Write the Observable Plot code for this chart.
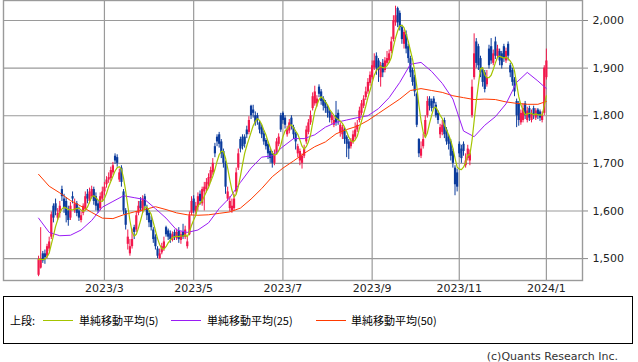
<!DOCTYPE html>
<html><head><meta charset="utf-8">
<script src="https://cdn.jsdelivr.net/npm/d3@7"></script>
<script src="https://cdn.jsdelivr.net/npm/@observablehq/plot@0.6"></script>
<style>
html,body{margin:0;padding:0;background:#fff;}
#wrap{position:relative;width:638px;height:362px;overflow:hidden;font-family:"DejaVu Sans","Noto Sans CJK JP",sans-serif;}
#chart{position:absolute;left:0;top:0;}
#legend{position:absolute;left:3px;top:296px;width:630px;height:48px;border:1px solid #000;box-sizing:border-box;font-family:"Noto Sans CJK JP","DejaVu Sans",sans-serif;font-size:11px;color:#000;}
.lg{position:absolute;top:16px;line-height:14px;white-space:nowrap;}
.sw{position:absolute;top:23px;height:0;width:30px;border-top:1px solid;}
#cap{position:absolute;right:20px;top:350px;font-size:11px;color:#333;font-family:"DejaVu Sans",sans-serif;}
</style></head>
<body>
<div id="wrap">
<div id="chart"></div>
<div id="legend"></div>
<div id="cap">(c)Quants Research Inc.</div>
</div>
<script>
const open = [
1465,1480,1510,1510,1505,1520,1545,1610,1615,1585,
1595,1645,1625,1620,1600,1585,1630,1600,1615,1600,
1580,1595,1605,1635,1620,1630,1645,1630,1615,1605,
1625,1640,1655,1665,1668,1680,1715,1712,1665,1690,
1640,1600,1530,1510,1525,1565,1560,1595,1620,1600,
1630,1605,1595,1580,1560,1545,1520,1500,1512,1520,
1565,1558,1552,1538,1555,1542,1558,1538,1555,1545,
1525,1550,1595,1625,1598,1608,1635,1615,1640,1645,
1655,1668,1680,1735,1755,1760,1745,1725,1700,1625,
1605,1600,1605,1640,1690,1750,1755,1755,1770,1765,
1820,1812,1800,1800,1785,1775,1762,1748,1740,1725,
1720,1700,1722,1740,1800,1805,1795,1760,1768,1795,
1775,1762,1720,1705,1700,1715,1745,1765,1785,1815,
1825,1825,1860,1850,1835,1828,1818,1808,1790,1780,
1800,1805,1765,1760,1770,1755,1745,1735,1745,1755,
1770,1790,1805,1820,1838,1850,1868,1880,1900,1925,
1915,1880,1910,1895,1910,1915,1935,1960,1995,2025,
2015,1985,1950,1970,1945,1920,1895,1880,1845,1750,
1715,1735,1760,1800,1835,1830,1835,1822,1805,1760,
1765,1790,1770,1755,1745,1725,1690,1680,1740,1730,
1740,1695,1710,1705,1800,1880,1955,1945,1920,1895,
1890,1865,1940,1945,1910,1955,1925,1935,1930,1945,
1915,1950,1905,1895,1875,1830,1825,1785,1790,1825,
1790,1815,1790,1815,1795,1812,1808,1790,1805,1880];
const high = [
1505,1565,1515,1518,1530,1545,1598,1615,1625,1605,
1620,1652,1635,1628,1610,1618,1640,1625,1620,1608,
1598,1615,1640,1645,1648,1652,1650,1638,1622,1638,
1650,1660,1672,1680,1692,1702,1720,1718,1688,1695,
1645,1605,1560,1540,1562,1570,1598,1620,1628,1632,
1635,1612,1600,1588,1565,1550,1525,1520,1532,1545,
1568,1562,1558,1556,1560,1562,1565,1556,1572,1568,
1545,1598,1630,1632,1618,1638,1642,1650,1660,1668,
1678,1692,1710,1742,1760,1765,1750,1730,1705,1650,
1630,1625,1635,1690,1730,1755,1760,1760,1778,1798,
1822,1822,1808,1805,1790,1780,1768,1752,1745,1730,
1725,1728,1752,1762,1805,1808,1800,1778,1792,1800,
1780,1765,1740,1730,1720,1738,1778,1792,1810,1848,
1862,1842,1865,1855,1840,1832,1822,1812,1805,1798,
1830,1812,1785,1780,1775,1758,1750,1752,1768,1785,
1790,1818,1832,1842,1860,1878,1892,1915,1930,1932,
1920,1912,1918,1922,1935,1938,1965,2010,2030,2028,
2020,1990,1980,1978,1950,1925,1900,1885,1848,1752,
1745,1762,1800,1840,1840,1835,1840,1828,1810,1782,
1790,1795,1775,1760,1750,1730,1695,1688,1745,1738,
1745,1720,1738,1728,1875,1972,1962,1950,1925,1900,
1895,1895,1948,1962,1938,1965,1948,1940,1935,1950,
1942,1955,1910,1900,1880,1835,1830,1812,1825,1830,
1818,1820,1812,1820,1815,1815,1812,1808,1905,1940];
const low = [
1462,1478,1490,1488,1500,1515,1540,1575,1590,1580,
1585,1620,1595,1575,1568,1580,1615,1595,1588,1578,
1575,1590,1600,1615,1615,1625,1612,1600,1595,1600,
1620,1632,1648,1658,1662,1675,1698,1692,1660,1650,
1592,1560,1518,1505,1520,1540,1555,1590,1598,1595,
1600,1580,1565,1558,1532,1518,1500,1498,1508,1515,
1545,1538,1532,1535,1538,1538,1532,1530,1540,1540,
1520,1548,1590,1595,1592,1600,1612,1610,1600,1638,
1650,1660,1675,1712,1735,1732,1710,1690,1635,1620,
1598,1595,1600,1635,1685,1722,1728,1732,1752,1760,
1792,1795,1778,1780,1762,1752,1738,1728,1708,1700,
1690,1695,1718,1735,1765,1782,1772,1755,1762,1770,
1750,1728,1712,1695,1688,1710,1740,1760,1780,1810,
1820,1818,1838,1822,1810,1805,1795,1785,1782,1775,
1778,1780,1755,1750,1740,1712,1708,1730,1740,1750,
1765,1785,1800,1815,1832,1845,1862,1875,1895,1885,
1870,1860,1880,1890,1905,1910,1930,1955,1988,1985,
1978,1950,1940,1930,1910,1880,1862,1840,1775,1712,
1710,1730,1755,1795,1810,1808,1815,1795,1782,1752,
1758,1752,1738,1728,1705,1690,1632,1640,1712,1700,
1715,1690,1705,1695,1795,1875,1900,1895,1880,1860,
1848,1860,1898,1908,1905,1918,1920,1905,1898,1912,
1910,1915,1880,1862,1840,1775,1778,1780,1785,1792,
1785,1788,1785,1792,1790,1792,1788,1785,1800,1875];
const close = [
1498,1500,1495,1502,1525,1535,1592,1585,1600,1595,
1610,1630,1605,1590,1580,1610,1625,1615,1595,1585,
1590,1610,1630,1625,1640,1645,1620,1610,1600,1630,
1640,1650,1665,1670,1685,1695,1705,1700,1680,1660,
1600,1570,1545,1525,1540,1555,1590,1610,1605,1625,
1610,1590,1575,1565,1540,1525,1505,1510,1525,1535,
1550,1545,1540,1550,1545,1555,1540,1550,1545,1560,
1535,1590,1620,1600,1610,1630,1620,1645,1650,1660,
1670,1685,1700,1720,1745,1740,1720,1700,1650,1640,
1620,1610,1625,1680,1720,1730,1735,1740,1760,1790,
1800,1805,1785,1790,1770,1760,1745,1735,1720,1710,
1700,1720,1745,1755,1770,1790,1780,1770,1785,1780,
1760,1745,1735,1725,1715,1730,1770,1785,1800,1840,
1850,1835,1845,1830,1820,1815,1805,1795,1800,1790,
1785,1790,1780,1775,1750,1740,1730,1745,1760,1770,
1780,1810,1825,1835,1850,1870,1885,1905,1915,1900,
1895,1905,1890,1915,1920,1930,1955,2000,2010,1995,
1985,1960,1975,1940,1920,1890,1870,1850,1780,1720,
1730,1750,1790,1830,1820,1815,1825,1800,1790,1775,
1780,1760,1745,1740,1715,1700,1655,1650,1720,1710,
1725,1705,1730,1720,1860,1930,1910,1905,1890,1870,
1855,1880,1905,1915,1930,1925,1940,1915,1905,1920,
1935,1925,1890,1870,1850,1800,1790,1805,1815,1800,
1810,1795,1805,1800,1810,1800,1795,1800,1900,1915];
// 25-day and 50-day simple moving averages, read every 5 trading days (last point = final day)
const maIndex = [0,5,10,15,20,25,30,35,40,45,50,55,60,65,70,75,80,85,90,95,100,105,110,115,120,125,130,135,140,145,150,155,160,165,170,175,180,185,190,195,200,205,210,215,220,225,230,235,239];
const ma25 = [1585,1555,1548,1549,1560,1580,1608,1620,1632,1628,1624,1605,1585,1560,1555,1560,1575,1605,1628,1660,1690,1713,1716,1735,1752,1752,1760,1776,1786,1791,1796,1800,1815,1838,1870,1908,1912,1893,1868,1835,1768,1756,1780,1798,1825,1870,1891,1873,1857];
const ma50 = [1677,1652,1638,1622,1610,1597,1585,1584,1592,1598,1603,1609,1603,1596,1592,1591,1592,1595,1598,1606,1625,1647,1672,1690,1705,1721,1735,1745,1762,1771,1778,1790,1805,1820,1835,1853,1857,1853,1849,1842,1838,1834,1835,1834,1829,1826,1824,1824,1830];
// month tick positions (trading-day index of first trading day of month)
const tickIndex = [31,73,115,157,198,239];
const tickLabels = ["2023/3","2023/5","2023/7","2023/9","2023/11","2024/1"];
const yTicks = [1500,1600,1700,1800,1900,2000];

const RED = "#f2184c", BLUE = "#0b3b9c";
const candles = close.map((c,i)=>({i, o:open[i], h:high[i], l:low[i], c, col: c>=open[i]?RED:BLUE}));
const ma25Data = maIndex.map((i,k)=>({i, v:ma25[k]}));
const ma50Data = maIndex.map((i,k)=>({i, v:ma50[k]}));

const chart = Plot.plot({
  width: 638, height: 296,
  marginLeft: 3, marginRight: 56, marginTop: 0, marginBottom: 16,
  style: {fontFamily: '"DejaVu Sans", sans-serif', fontSize: "11px", color: "#222", background: "#fff"},
  x: {type: "linear", domain: [-16.5, 256], axis: null, label: null},
  y: {domain: [1454, 2042], axis: null, label: null},
  marks: [
    Plot.ruleX(tickIndex, {stroke: "#9a9a9a", strokeWidth: 1.2}),
    Plot.ruleY(yTicks, {stroke: "#9a9a9a", strokeWidth: 1.2}),
    Plot.ruleX(candles, {x: "i", y1: "l", y2: "h", stroke: "col", strokeWidth: 1}),
    Plot.ruleX(candles, {x: "i", y1: "o", y2: "c", stroke: "col", strokeWidth: 2.2}),
    Plot.line(ma50Data, {x: "i", y: "v", stroke: "#ff3a00", strokeWidth: 1}),
    Plot.line(ma25Data, {x: "i", y: "v", stroke: "#9a1cf5", strokeWidth: 1}),
    Plot.lineY(candles, Plot.windowY({k: 5, anchor: "end", strict: false}, {x: "i", y: "c", stroke: "#a4c400", strokeWidth: 1.2})),
    Plot.frame({stroke: "#9a9a9a", strokeWidth: 1.4}),
    Plot.axisY(yTicks, {anchor: "right", label: null, tickFormat: d3.format(","), tickSize: 5, tickPadding: 5, stroke: "#888", fill: "#222"}),
    Plot.axisX(tickIndex, {anchor: "bottom", label: null, tickSize: 0, tickPadding: 4, tickFormat: d => tickLabels[tickIndex.indexOf(d)], fill: "#222"})
  ]
});
document.getElementById("chart").appendChild(chart);

const legendItems = [
  {label: "単純移動平均(5)", color: "#a4c400", sx: 39, tx: 75},
  {label: "単純移動平均(25)", color: "#9a1cf5", sx: 167, tx: 203},
  {label: "単純移動平均(50)", color: "#ff3a00", sx: 312, tx: 347}
];
const lg = document.getElementById("legend");
let html = '<div class="lg" style="left:6px">上段:</div>';
for (const it of legendItems) {
  html += `<div class="sw" style="left:${it.sx}px;border-color:${it.color}"></div>`;
  html += `<div class="lg" style="left:${it.tx}px">${it.label}</div>`;
}
lg.innerHTML = html;
</script>
</body></html>
